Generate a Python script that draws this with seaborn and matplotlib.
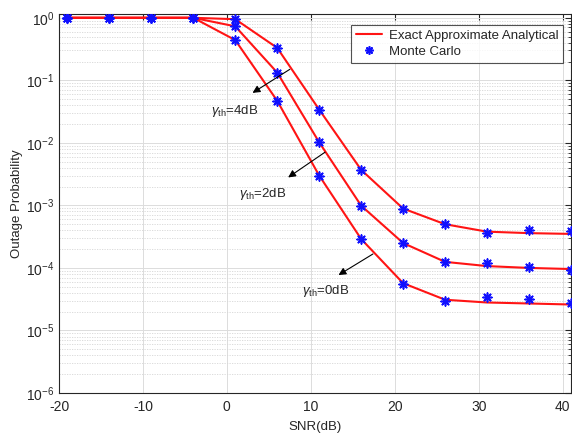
import numpy as np
import pandas as pd
import matplotlib
matplotlib.use("Agg")
import matplotlib.pyplot as plt
from matplotlib.lines import Line2D
from matplotlib.ticker import LogLocator, LogFormatterSciNotation, NullFormatter, MultipleLocator
import seaborn as sns

# SNR grid (dB)
snr = [-19, -14, -9, -4, 1, 6, 11, 16, 21, 26, 31, 36, 41]

# Analytical outage probability for each threshold
ana_4db = [1, 1, 1, 1, 0.95, 0.33, 0.034, 3.7e-3, 8.9e-4, 5.0e-4, 3.8e-4, 3.6e-4, 3.5e-4]
ana_2db = [1, 1, 1, 1, 0.73, 0.133, 0.0102, 9.9e-4, 2.5e-4, 1.25e-4, 1.07e-4, 1.0e-4, 9.6e-5]
ana_0db = [1, 1, 1, 1, 0.44, 0.047, 3.0e-3, 2.9e-4, 5.7e-5, 3.1e-5, 2.8e-5, 2.7e-5, 2.6e-5]

# Monte Carlo estimates
mc_4db = [1, 1, 1, 1, 0.95, 0.33, 0.034, 3.7e-3, 8.9e-4, 5.0e-4, 3.6e-4, 4.0e-4, 3.9e-4]
mc_2db = [1, 1, 1, 1, 0.73, 0.133, 0.0102, 9.9e-4, 2.5e-4, 1.25e-4, 1.2e-4, 1.04e-4, 9.1e-5]
mc_0db = [1, 1, 1, 1, 0.44, 0.047, 3.0e-3, 2.9e-4, 5.6e-5, 3.0e-5, 3.4e-5, 3.2e-5, 2.8e-5]

thresholds = ["4dB", "2dB", "0dB"]

ana = pd.DataFrame({
    "snr": snr * 3,
    "p": ana_4db + ana_2db + ana_0db,
    "th": np.repeat(thresholds, len(snr)),
})
mc = pd.DataFrame({
    "snr": snr * 3,
    "p": mc_4db + mc_2db + mc_0db,
    "th": np.repeat(thresholds, len(snr)),
})

sns.set_style("white")
plt.rcParams["font.family"] = ["Liberation Sans", "DejaVu Sans"]
plt.rcParams["mathtext.fontset"] = "custom"
plt.rcParams["mathtext.rm"] = "Liberation Sans"
plt.rcParams["mathtext.it"] = "Liberation Sans:italic"
plt.rcParams["axes.unicode_minus"] = False

fig = plt.figure(figsize=(5.72, 4.36), dpi=100)
ax = fig.add_axes([59 / 572, 43 / 436, 512 / 572, 379 / 436])

red = "#ff1414"
blue = "#1010ff"
ast = (8, 2, 0)

sns.lineplot(data=ana, x="snr", y="p", units="th", estimator=None,
             color=red, lw=1.5, ax=ax, legend=False)
sns.scatterplot(data=mc, x="snr", y="p", color=blue, marker=ast, s=40,
                linewidth=1.2, edgecolor=blue, ax=ax, legend=False, zorder=3)

ax.set_yscale("log")
ax.set_xlim(-20, 41)
ax.set_ylim(1e-6, 1.15)
ax.yaxis.set_major_locator(LogLocator(base=10, numticks=10))
ax.yaxis.set_major_formatter(LogFormatterSciNotation())
ax.yaxis.set_minor_locator(LogLocator(base=10, subs=np.arange(2, 10), numticks=20))
ax.yaxis.set_minor_formatter(NullFormatter())
ax.xaxis.set_major_locator(MultipleLocator(10))

ax.grid(True, which="major", color="#dcdcdc", lw=0.7, ls="-")
ax.grid(True, which="minor", axis="y", color="#d6d6d6", lw=0.6, ls=(0, (1.5, 1.5)))
ax.set_axisbelow(True)

for s in ax.spines.values():
    s.set_color("#262626")
    s.set_linewidth(0.8)
ax.tick_params(which="both", direction="in", top=True, right=True,
               colors="#262626", labelsize=10)
ax.tick_params(which="major", length=4)
ax.tick_params(which="minor", length=2.5)
ax.tick_params(axis="x", pad=5)

ax.set_xlabel("SNR(dB)", fontsize=9.5, color="#262626", labelpad=5)
ax.set_ylabel("Outage Probability", fontsize=9.5, color="#262626", labelpad=2)

# threshold annotations
notes = [
    ("$\\gamma_{\\mathrm{th}}$=4dB", (7.5, 0.150), (3.06, 0.063), (0.95, 0.032)),
    ("$\\gamma_{\\mathrm{th}}$=2dB", (11.7, 7.1e-3), (7.3, 2.8e-3), (4.3, 1.5e-3)),
    ("$\\gamma_{\\mathrm{th}}$=0dB", (17.4, 1.67e-4), (13.3, 7.7e-5), (11.8, 4.3e-5)),
]
for label, start, end, pos in notes:
    ax.annotate("", xy=end, xytext=start,
                arrowprops=dict(arrowstyle="-|>", color="k", lw=0.8,
                                mutation_scale=11, shrinkA=0, shrinkB=0))
    ax.text(pos[0], pos[1], label, fontsize=9.5, ha="center", va="center",
            color="#262626")

handles = [
    Line2D([], [], color=red, lw=1.5, label="Exact Approximate Analytical"),
    Line2D([], [], color=blue, ls="none", marker=ast, markersize=6,
           markeredgewidth=1.2, label="Monte Carlo"),
]
leg = ax.legend(handles=handles, loc="upper right",
                bbox_to_anchor=(1 - 8 / 512, 1 - 11 / 379),
                fontsize=9.5, frameon=True, fancybox=False, borderaxespad=0,
                handlelength=2.0, handletextpad=0.5, borderpad=0.35,
                labelspacing=0.3)
leg.get_frame().set_edgecolor("#262626")
leg.get_frame().set_linewidth(0.8)

fig.savefig("out.png", dpi=100)
